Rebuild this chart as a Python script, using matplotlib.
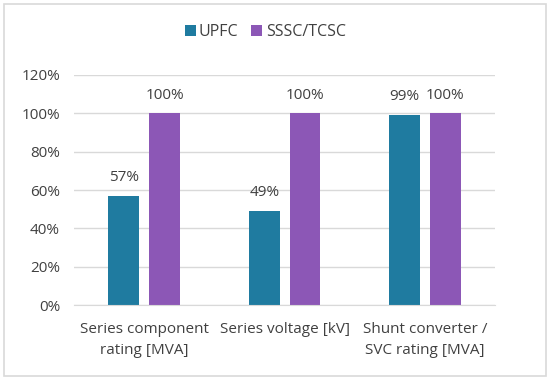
import numpy as np
import matplotlib.pyplot as plt
from matplotlib.patches import Rectangle

plt.rcParams['font.family'] = ['Open Sans', 'DejaVu Sans']

categories = ['Series component\nrating [MVA]', 'Series voltage [kV]', 'Shunt converter /\nSVC rating [MVA]']
upfc = [57, 49, 99]
sssc = [100, 100, 100]
series_names = ['UPFC', 'SSSC/TCSC']
colors = ['#1F7BA0', '#8C57B6']
text_color = '#404040'
fs = 11

fig = plt.figure(figsize=(5.5, 3.8), dpi=100)
ax = fig.add_axes([0.1345, 0.197, 0.766, 0.606])

x = np.arange(len(categories))
w = 0.22
off = 0.145
b1 = ax.bar(x - off, upfc, w, color=colors[0], label=series_names[0])
b2 = ax.bar(x + off, sssc, w, color=colors[1], label=series_names[1])

for bars, vals in [(b1, upfc), (b2, sssc)]:
    for r, v in zip(bars, vals):
        ax.text(r.get_x() + r.get_width() / 2, v + 9.5, f'{v}%', ha='center', va='center',
                fontsize=fs, color=text_color)

ax.set_xlim(-0.5, 2.5)
ax.set_ylim(0, 120)
ax.set_yticks(np.arange(0, 121, 20))
ax.set_yticklabels([f'{t}%' for t in range(0, 121, 20)])
ax.set_xticks(x)
ax.set_xticklabels(categories, linespacing=1.6)
ax.tick_params(axis='both', length=0, labelsize=fs, labelcolor=text_color)
ax.tick_params(axis='y', pad=10)
ax.tick_params(axis='x', pad=12)
ax.grid(axis='y', color='#D9D9D9', linewidth=1)
ax.set_axisbelow(True)
for s in ['top', 'right', 'left']:
    ax.spines[s].set_visible(False)
ax.spines['bottom'].set_color('#D9D9D9')

fig.legend(loc='upper center', bbox_to_anchor=(0.482, 0.975), ncol=2, frameon=False,
           fontsize=11.5, handlelength=0.7, handleheight=0.7, handletextpad=0.2,
           columnspacing=0.8, labelcolor=text_color)

fig.patches.append(Rectangle((0.008, 0.01), 0.984, 0.98, transform=fig.transFigure,
                             fill=False, edgecolor='#D9D9D9', linewidth=1.2))

fig.savefig('out.png', dpi=100)
